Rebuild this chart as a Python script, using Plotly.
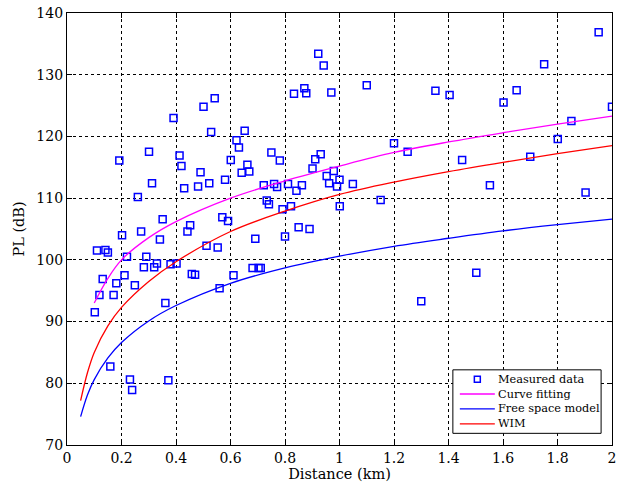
import plotly.graph_objects as go

# Measured data (Distance km, PL dB)
meas_x = [0.102, 0.110, 0.119, 0.131, 0.141, 0.150, 0.159, 0.171, 0.181, 0.192,
          0.202, 0.211, 0.220, 0.231, 0.239, 0.249, 0.260, 0.272, 0.282, 0.291,
          0.301, 0.312, 0.320, 0.330, 0.341, 0.351, 0.361, 0.372, 0.380, 0.391,
          0.402, 0.413, 0.420, 0.430, 0.442, 0.452, 0.458, 0.470, 0.481, 0.490,
          0.501, 0.512, 0.522, 0.529, 0.542, 0.553, 0.560, 0.570, 0.580, 0.591,
          0.601, 0.611, 0.622, 0.631, 0.641, 0.652, 0.662, 0.669, 0.681, 0.691,
          0.703, 0.711, 0.722, 0.733, 0.741, 0.750, 0.760, 0.771, 0.781, 0.791,
          0.800, 0.811, 0.822, 0.833, 0.842, 0.850, 0.862, 0.871, 0.878, 0.890,
          0.901, 0.911, 0.922, 0.931, 0.942, 0.953, 0.962, 0.970, 0.979, 0.991,
          1.000, 1.001, 1.049, 1.100, 1.151, 1.200, 1.250, 1.300, 1.352, 1.404,
          1.450, 1.502, 1.552, 1.602, 1.650, 1.700, 1.751, 1.801, 1.851, 1.903,
          1.951, 2.000]
meas_y = [91.5, 101.5, 94.3, 96.9, 101.6, 101.2, 82.7, 94.3, 96.2, 116.1,
          104.0, 97.5, 100.5, 80.6, 78.9, 95.9, 110.2, 104.6, 98.8, 100.5,
          117.5, 112.4, 98.8, 99.4, 103.3, 106.6, 93.0, 80.5, 99.3, 123.0,
          99.4, 116.9, 115.2, 111.6, 104.6, 105.6, 97.7, 97.6, 111.9, 114.2,
          124.8, 102.3, 112.4, 120.7, 126.2, 102.0, 95.4, 106.9, 113.0, 106.3,
          116.2, 97.5, 119.4, 118.2, 114.1, 120.9, 115.4, 114.3, 98.7, 103.4,
          98.7, 98.7, 112.1, 109.6, 109.0, 117.4, 112.3, 111.8, 116.1, 108.2,
          103.8, 112.3, 108.7, 126.9, 111.2, 105.3, 112.1, 127.8, 127.0, 105.0,
          114.8, 116.3, 133.4, 117.1, 131.5, 113.6, 112.4, 127.1, 114.4, 111.9,
          113.0, 108.7, 112.3, 128.3, 109.7, 118.9, 117.5, 93.3, 127.4, 126.7,
          116.2, 97.9, 112.1, 125.5, 127.5, 116.7, 131.7, 119.6, 122.5, 110.9,
          136.9, 124.8]

# Curve fitting
fit_x = [0.1, 0.15, 0.2, 0.3, 0.4, 0.6, 0.8, 1.0, 1.2, 1.4, 1.6, 1.8, 2.0]
fit_y = [93.0, 97.0, 100.0, 103.6, 106.2, 110.0, 112.8, 115.2, 117.4, 119.1, 120.6, 122.0, 123.3]

# Free space model
free_x = [0.05, 0.075, 0.1, 0.15, 0.2, 0.3, 0.4, 0.6, 0.8, 1.0, 1.2, 1.4, 1.6, 1.8, 2.0]
free_y = [74.6, 78.1, 80.6, 84.1, 86.6, 90.1, 92.6, 96.2, 98.7, 100.6, 102.2, 103.5, 104.7, 105.7, 106.6]

# WIM
wim_x = [0.05, 0.075, 0.1, 0.15, 0.2, 0.3, 0.4, 0.6, 0.8, 1.0, 1.2, 1.4, 1.6, 1.8, 2.0]
wim_y = [77.2, 81.7, 85.0, 89.3, 92.3, 96.5, 99.7, 104.6, 107.9, 110.6, 112.6, 114.3, 115.8, 117.2, 118.5]

x_ticks = [0, 0.2, 0.4, 0.6, 0.8, 1.0, 1.2, 1.4, 1.6, 1.8, 2.0]
x_labels = ["0", "0.2", "0.4", "0.6", "0.8", "1", "1.2", "1.4", "1.6", "1.8", "2"]
y_ticks = [70, 80, 90, 100, 110, 120, 130, 140]

legend_names = ["Measured data", "Curve fitting", "Free space model", "WIM"]
legend_colors = ["#0000ff", "#ff00ff", "#0000ff", "#ff0000"]

FONT = "DejaVu Serif"

fig = go.Figure()
fig.add_trace(go.Scatter(x=meas_x, y=meas_y, mode="markers", name=legend_names[0],
                         marker=dict(symbol="square-open", size=7, color=legend_colors[0],
                                     line=dict(width=1.5, color=legend_colors[0]))))
fig.add_trace(go.Scatter(x=fit_x, y=fit_y, mode="lines", name=legend_names[1],
                         line=dict(color=legend_colors[1], width=1.3, shape="spline")))
fig.add_trace(go.Scatter(x=free_x, y=free_y, mode="lines", name=legend_names[2],
                         line=dict(color=legend_colors[2], width=1.3, shape="spline")))
fig.add_trace(go.Scatter(x=wim_x, y=wim_y, mode="lines", name=legend_names[3],
                         line=dict(color=legend_colors[3], width=1.3, shape="spline")))

axis_common = dict(showline=True, linecolor="black", linewidth=1.2, mirror="ticks",
                   ticks="inside", ticklen=5, tickcolor="black",
                   showgrid=True, gridcolor="black", gridwidth=1, griddash="dot",
                   zeroline=False, ticklabeloverflow="allow",
                   tickfont=dict(family=FONT, size=14, color="black"))

fig.update_xaxes(range=[0, 2], tickvals=x_ticks, ticktext=x_labels,
                 title=dict(text="Distance (km)", font=dict(family=FONT, size=14.5, color="black"), standoff=0),
                 **axis_common)
fig.update_yaxes(range=[70, 140], tickvals=y_ticks,
                 title=dict(text="PL (dB)", font=dict(family=FONT, size=14.5, color="black"), standoff=8),
                 **axis_common)

# Custom legend box (MATLAB style) in plot-area (paper) coordinates
PW, PH = 549.0, 432.0          # plot area size in px
box_x0, box_x1 = 0.708, 0.980
box_y0, box_y1 = 0.027, 0.174
row_y = [0.152, 0.118, 0.0835, 0.049]
line_x0, line_x1 = 0.7208, 0.7850
text_x = 0.7880

shapes = [dict(type="rect", xref="paper", yref="paper", x0=box_x0, x1=box_x1,
               y0=box_y0, y1=box_y1, line=dict(color="black", width=1),
               fillcolor="white", layer="above")]
annotations = []
for i, (name, col) in enumerate(zip(legend_names, legend_colors)):
    yy = row_y[i]
    if i == 0:
        xm = (line_x0 + line_x1) / 2
        shapes.append(dict(type="rect", xref="paper", yref="paper",
                           x0=xm - 3 / PW, x1=xm + 3 / PW, y0=yy - 3 / PH, y1=yy + 3 / PH,
                           line=dict(color=col, width=1.5), fillcolor="rgba(0,0,0,0)",
                           layer="above"))
    else:
        shapes.append(dict(type="line", xref="paper", yref="paper",
                           x0=line_x0, x1=line_x1, y0=yy, y1=yy,
                           line=dict(color=col, width=1.3), layer="above"))
    annotations.append(dict(xref="paper", yref="paper", x=text_x, y=yy, text=name,
                            showarrow=False, xanchor="left", yanchor="middle",
                            font=dict(family=FONT, size=11.3, color="black")))

fig.update_layout(
    width=619, height=488,
    margin=dict(l=67, r=3, t=13, b=43),
    paper_bgcolor="white", plot_bgcolor="white",
    font=dict(family=FONT, size=14, color="black"),
    showlegend=False,
    shapes=shapes,
    annotations=annotations,
)

fig.write_html("out.html")
